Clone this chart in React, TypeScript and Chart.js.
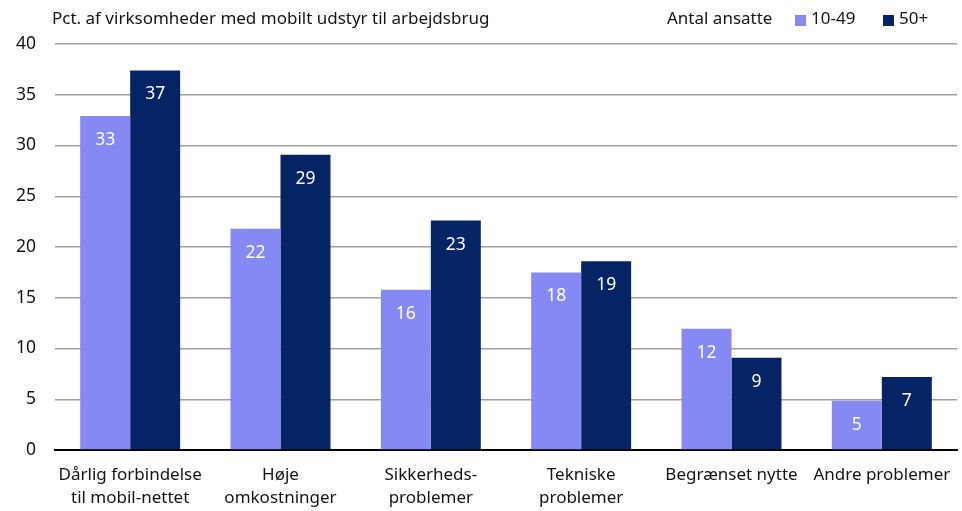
import React, { useEffect, useRef } from 'react';
import { Chart, registerables } from 'chart.js';
Chart.register(...registerables);

const categories: string[][] = [
  ['Dårlig forbindelse', 'til mobil-nettet'],
  ['Høje', 'omkostninger'],
  ['Sikkerheds-', 'problemer'],
  ['Tekniske', 'problemer'],
  ['Begrænset nytte'],
  ['Andre problemer'],
];
const seriesNames = ['10-49', '50+'];
const small = [32.9, 21.8, 15.8, 17.5, 11.95, 4.85];
const large = [37.4, 29.1, 22.6, 18.6, 9.1, 7.2];
const smallLabels = ['33', '22', '16', '18', '12', '5'];
const largeLabels = ['37', '29', '23', '19', '9', '7'];
const yTicks = [0, 5, 10, 15, 20, 25, 30, 35, 40];
const titleText = 'Pct. af virksomheder med mobilt udstyr til arbejdsbrug';
const legendTitle = 'Antal ansatte';

const LIGHT = '#8589f4';
const DARK = '#052466';
const FONT = '"Noto Sans", sans-serif';
const TEXT = '#141414';

export default function App() {
  const ref = useRef<HTMLCanvasElement>(null);
  useEffect(() => {
    document.body.style.margin = '0';
    const labelsSets = [smallLabels, largeLabels];
    const barLabels = {
      id: 'barLabels',
      afterDatasetsDraw(chart: any) {
        const ctx = chart.ctx;
        ctx.save();
        ctx.fillStyle = '#ffffff';
        ctx.font = `17.5px ${FONT}`;
        ctx.textAlign = 'center';
        ctx.textBaseline = 'middle';
        chart.data.datasets.forEach((ds: any, i: number) => {
          const meta = chart.getDatasetMeta(i);
          meta.data.forEach((el: any, j: number) => {
            ctx.fillText(labelsSets[i][j], el.x, el.y + 24);
          });
        });
        ctx.restore();
      },
    };
    const header = {
      id: 'header',
      afterDraw(chart: any) {
        const ctx = chart.ctx;
        ctx.save();
        ctx.fillStyle = TEXT;
        ctx.font = `17px ${FONT}`;
        ctx.textBaseline = 'middle';
        ctx.textAlign = 'left';
        ctx.fillText(titleText, 52, 19);
        ctx.fillText(legendTitle, 667, 19);
        const colors = [LIGHT, DARK];
        const xs = [795, 883];
        seriesNames.forEach((n, i) => {
          ctx.fillStyle = colors[i];
          ctx.fillRect(xs[i], 15, 11, 11);
          ctx.fillStyle = TEXT;
          ctx.fillText(n, xs[i] + 16, 19);
        });
        ctx.restore();
      },
    };
    const chart = new Chart(ref.current!, {
      type: 'bar',
      data: {
        labels: categories,
        datasets: [
          { label: seriesNames[0], data: small, backgroundColor: LIGHT },
          { label: seriesNames[1], data: large, backgroundColor: DARK },
        ],
      },
      options: {
        animation: false,
        responsive: false,
        layout: { padding: { top: 44, right: 5, left: 0, bottom: 0 } },
        plugins: { legend: { display: false }, tooltip: { enabled: false } },
        datasets: { bar: { categoryPercentage: 0.665, barPercentage: 1 } } as any,
        scales: {
          x: {
            grid: { display: false, drawTicks: false },
            border: { display: true, color: '#000000', width: 2 },
            ticks: { color: TEXT, font: { family: FONT, size: 17, lineHeight: 1.38 }, padding: 13, maxRotation: 0, autoSkip: false },
            afterFit: (s: any) => { s.height = 61; s.paddingRight = 0; },
          },
          y: {
            min: 0,
            max: 40,
            afterBuildTicks: (s: any) => { s.ticks = yTicks.map((v) => ({ value: v })); },
            grid: { color: '#a0a0a0', lineWidth: 1.5, drawTicks: false },
            border: { display: false },
            ticks: { color: TEXT, font: { family: FONT, size: 17.5 }, padding: 19 },
            afterFit: (s: any) => { s.width = 55; },
          },
        },
      },
      plugins: [barLabels, header],
    });
    return () => chart.destroy();
  }, []);
  return <canvas ref={ref} width={962} height={511} style={{ display: 'block' }} />;
}
